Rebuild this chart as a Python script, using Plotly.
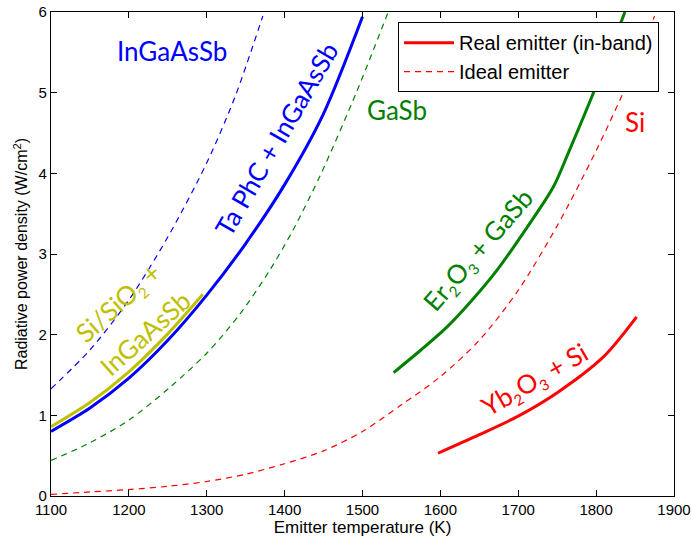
import plotly.graph_objects as go

# ---- data ----
T_ingaassb_ideal = [1100, 1150, 1200, 1250, 1300, 1336, 1372]
P_ingaassb_ideal = [1.33, 1.81, 2.43, 3.21, 4.13, 4.94, 5.95]

T_gasb_ideal = [1100, 1150, 1200, 1253, 1300, 1343, 1381, 1411, 1447, 1492, 1533]
P_gasb_ideal = [0.44, 0.66, 0.94, 1.35, 1.77, 2.26, 2.80, 3.30, 4.00, 5.00, 6.00]

T_si_ideal = [1100, 1150, 1200, 1250, 1300, 1350, 1400, 1450, 1500, 1550, 1600,
              1650, 1700, 1750, 1800, 1850, 1875]
P_si_ideal = [0.02, 0.05, 0.08, 0.12, 0.18, 0.27, 0.40, 0.56, 0.80, 1.13, 1.48,
              1.93, 2.55, 3.35, 4.28, 5.33, 5.95]

T_taphc = [1100, 1150, 1200, 1250, 1300, 1350, 1400, 1450, 1500]
P_taphc = [0.80, 1.09, 1.46, 1.93, 2.49, 3.13, 3.86, 4.74, 5.94]

T_sisio2 = [1100, 1150, 1200, 1250, 1295]
P_sisio2 = [0.86, 1.16, 1.54, 2.01, 2.50]

T_er2o3 = [1540, 1575, 1608, 1640, 1672, 1700, 1745, 1765, 1800, 1837]
P_er2o3 = [1.53, 1.81, 2.09, 2.42, 2.79, 3.17, 3.83, 4.27, 5.08, 6.00]

T_yb2o3 = [1597, 1650, 1700, 1750, 1810, 1852]
P_yb2o3 = [0.53, 0.76, 0.99, 1.28, 1.73, 2.22]

x_ticks = [1100, 1200, 1300, 1400, 1500, 1600, 1700, 1800, 1900]
y_ticks = [0, 1, 2, 3, 4, 5, 6]

BLUE = "#0000ff"
GREEN = "#008000"
RED = "#ff0000"
YELLOW = "#bfbf00"
DASH = "6px,5px"

fig = go.Figure()

def add(T, P, color, dashed, name=None, legend=False, rank=None):
    fig.add_trace(go.Scatter(
        x=T, y=P, mode="lines", name=name, showlegend=legend,
        legendrank=rank if rank else 1000,
        line=dict(color=color, width=1.2 if dashed else 3,
                  dash=DASH if dashed else "solid", shape="spline", smoothing=0.8),
        hoverinfo="skip"))

add(T_ingaassb_ideal, P_ingaassb_ideal, BLUE, True)
add(T_gasb_ideal, P_gasb_ideal, GREEN, True)
add(T_si_ideal, P_si_ideal, RED, True, name="Ideal emitter", legend=True, rank=2)
add(T_taphc, P_taphc, BLUE, False)
add(T_sisio2, P_sisio2, YELLOW, False)
add(T_er2o3, P_er2o3, GREEN, False)
add(T_yb2o3, P_yb2o3, RED, False, name="Real emitter (in-band)", legend=True, rank=1)

LBL = dict(family="Lato", size=26)


def sub(ch):
    return "<sub><span style='font-size:15px'>" + ch + "</span></sub>"


def label(text, x, y, color, angle=0):
    fig.add_annotation(text=text, x=x, y=y, xref="x", yref="y", showarrow=False,
                       textangle=angle, xanchor="center", yanchor="middle",
                       font=dict(LBL, color=color))

label("InGaAsSb", 1256, 5.52, BLUE)
label("Ta PhC + InGaAsSb", 1389, 4.43, BLUE, -60)
label("GaSb", 1544, 4.79, GREEN)
label("Si", 1850, 4.64, RED)
label("Er" + sub("2") + "O" + sub("3") + " + GaSb", 1649, 3.05, GREEN, -49)
label("Yb" + sub("2") + "O" + sub("3") + " + Si", 1721, 1.44, RED, -30)
label("Si/SiO" + sub("2") + " +", 1187, 2.39, YELLOW, -42)
label("InGaAsSb", 1221, 2.02, YELLOW, -42)

axis_common = dict(showline=True, linecolor="black", linewidth=1.2, mirror="ticks",
                   ticks="inside", ticklen=6, tickcolor="black", tickwidth=1,
                   showgrid=False, zeroline=False,
                   tickfont=dict(family="Liberation Sans", size=15, color="black"))

fig.update_layout(
    width=691, height=542,
    margin=dict(l=51, r=17, t=12, b=46, autoexpand=False),
    paper_bgcolor="white", plot_bgcolor="white",
    xaxis=dict(axis_common, range=[1100, 1900], tickvals=x_ticks,
               title=dict(text="Emitter temperature (K)", standoff=4,
                          font=dict(family="Liberation Sans", size=17, color="black"))),
    yaxis=dict(axis_common, range=[0, 6], tickvals=y_ticks,
               title=dict(text="Radiative power density (W/cm<sup>2</sup>)", standoff=6,
                          font=dict(family="Liberation Sans", size=16, color="black"))),
    legend=dict(x=0.557, y=0.979, xanchor="left", yanchor="top",
                bordercolor="black", borderwidth=1, bgcolor="white",
                font=dict(family="Liberation Sans", size=20, color="black"),
                itemwidth=50, tracegroupgap=0),
    showlegend=True,
)

fig.write_html("out.html")
